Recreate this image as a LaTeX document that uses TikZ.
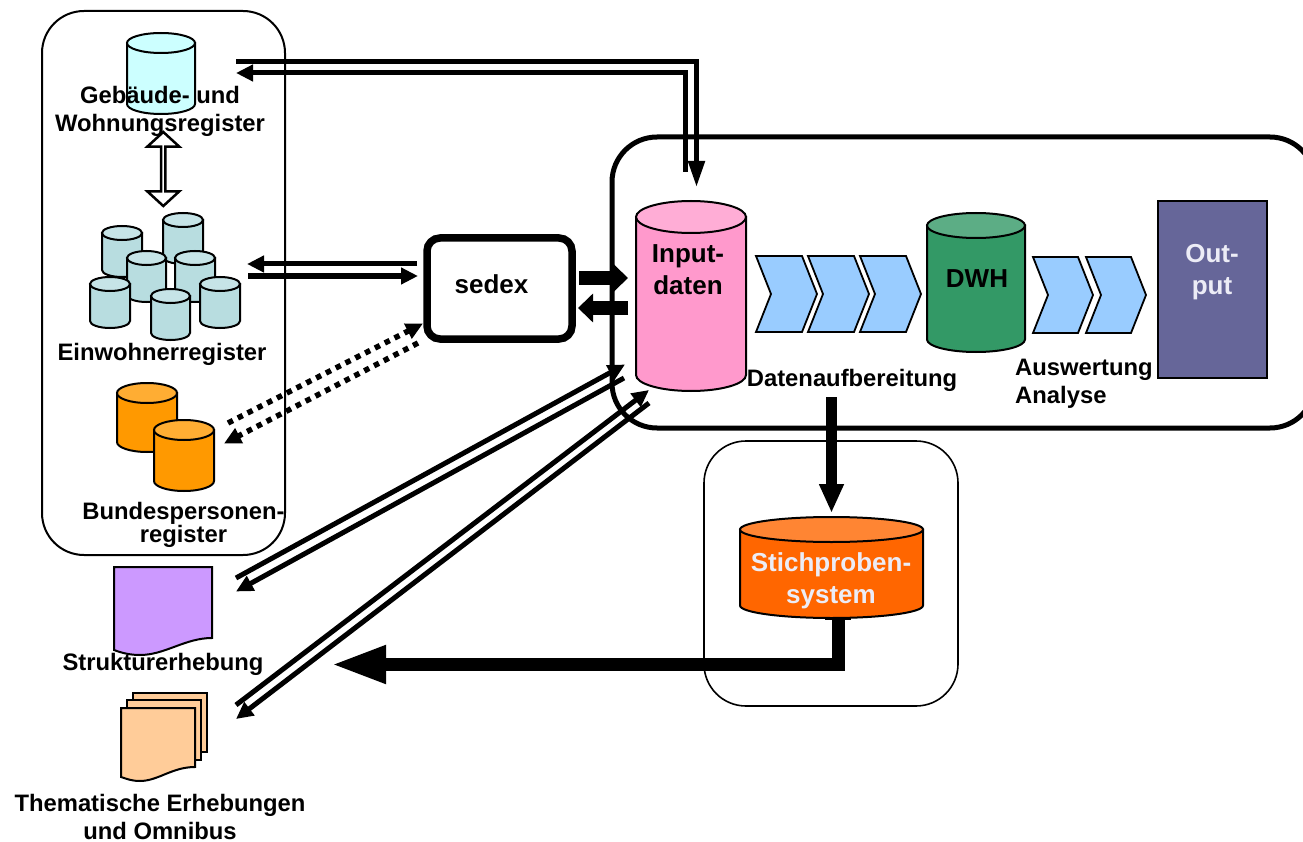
\documentclass[tikz,border=0pt]{standalone}
\usepackage{fontspec}
\setmainfont{Liberation Sans}
\usetikzlibrary{arrows.meta,shapes.arrows,calc}
\definecolor{cylcyan}{HTML}{CCFFFF}
\definecolor{cylblue}{HTML}{B8DDE0}
\definecolor{cylbluetop}{HTML}{C6E4E7}
\definecolor{cylorange}{HTML}{FF9900}
\definecolor{cylorangetop}{HTML}{FFAD33}
\definecolor{cylpink}{HTML}{FF99CC}
\definecolor{cylpinktop}{HTML}{FFADD6}
\definecolor{cylgreen}{HTML}{339966}
\definecolor{cylgreentop}{HTML}{5CAD85}
\definecolor{cylred}{HTML}{FF6600}
\definecolor{cylredtop}{HTML}{FF8533}
\definecolor{chev}{HTML}{99CCFF}
\definecolor{outbox}{HTML}{666699}
\definecolor{lilac}{HTML}{CC99FF}
\definecolor{peach}{HTML}{FFCC99}
\definecolor{lighttext}{HTML}{ECECF6}
\tikzset{
  lbl/.style={font=\fontsize{23.8}{28}\selectfont\bfseries,align=center,inner sep=0pt,text=black},
  lblbig/.style={font=\fontsize{26}{32}\selectfont\bfseries,align=center,inner sep=0pt},
  frame/.style={draw=black,fill=none,inner sep=0pt,outer sep=0pt},
  flow/.style={line width=5pt,draw=black,line join=miter},
  tipsmall/.style={-{Triangle[length=17pt,width=16pt]}},
  tipelbow/.style={-{Triangle[length=26pt,width=16pt]}},
  fat/.style={line width=14pt,draw=black,-{Triangle[length=15pt,width=28pt]}},
  dots/.style={line width=5.5pt,draw=black,dash pattern=on 5.5pt off 5.5pt},
  sheet/.style={draw=black,line width=2pt},
  chevron/.style={draw=black,fill=chev,line width=1.8pt,line join=miter}
}
% name, x1, x2, ytop, ybottom, ry, body colour, top colour
\newcommand\cyl[8]{%
  \pgfmathsetmacro\cylR{(#3-#2)/2}%
  \pgfmathsetmacro\cylC{(#2+#3)/2}%
  \pgfmathsetmacro\cylT{#4+#6}%
  \pgfmathsetmacro\cylB{#5-#6}%
  \pgfmathsetmacro\cylM{(#4+#5)/2}%
  \draw[black,line width=2pt,fill=#7] (#2,\cylT) -- (#2,\cylB)
     arc[start angle=180,end angle=360,x radius=\cylR pt,y radius=#6 pt] -- (#3,\cylT) -- cycle;
  \draw[black,line width=2pt,fill=#8] (\cylC,\cylT) ellipse[x radius=\cylR pt,y radius=#6 pt];
  \coordinate (#1) at (\cylC,\cylM);
}
\newcommand\chevronat[1]{%
  \draw[chevron] (#1,256) -- ++(46,0) -- ++(15,38) -- ++(-15,38) -- ++(-46,0) -- ++(15,-38) -- cycle;
}
\newcommand\chevronlow[1]{%
  \draw[chevron] (#1,257) -- ++(45,0) -- ++(15,38) -- ++(-15,38) -- ++(-45,0) -- ++(15,-38) -- cycle;
}
\begin{document}
\begin{tikzpicture}[x=1pt,y=-1pt]
\useasboundingbox (0,0) rectangle (1303,842);
\begin{scope}
\clip (0,0) rectangle (1303,842);

% frames
\node[frame,line width=2pt,rounded corners=42pt,minimum width=243pt,minimum height=544pt] (regbox) at (163.5,283) {};
\node[frame,line width=5pt,rounded corners=45pt,minimum width=703pt,minimum height=291pt] (mainbox) at (963.5,282.5) {};
\node[frame,line width=1.6pt,rounded corners=42pt,minimum width=254pt,minimum height=265pt] (samplebox) at (831,573.5) {};
\node[frame,line width=7.5pt,rounded corners=13pt,minimum width=145pt,minimum height=101pt,fill=white] (sedex) at (499.5,288.5) {};

% register cylinders
\cyl{gwr}{127}{195}{33}{114}{10}{cylcyan}{cylcyan}
\cyl{ew1}{102}{142}{226}{277}{7}{cylblue}{cylbluetop}
\cyl{ew2}{163}{203}{213}{264}{7}{cylblue}{cylbluetop}
\cyl{ew3}{127}{166}{251}{302}{7}{cylblue}{cylbluetop}
\cyl{ew4}{175}{215}{251}{302}{7}{cylblue}{cylbluetop}
\cyl{ew5}{90}{130}{277}{328}{7}{cylblue}{cylbluetop}
\cyl{ew6}{200}{240}{277}{328}{7}{cylblue}{cylbluetop}
\cyl{ew7}{151}{190}{289}{340}{7}{cylblue}{cylbluetop}
\cyl{bpr1}{117}{177}{383}{452}{10}{cylorange}{cylorangetop}
\cyl{bpr2}{154}{214}{420}{491}{10}{cylorange}{cylorangetop}

% white double arrow
\node[double arrow,draw=black,fill=white,line width=2.5pt,rotate=90,inner sep=0pt,outer sep=0pt,
  minimum height=74pt,minimum width=32pt,double arrow head extend=8pt,double arrow tip angle=95] (reglink) at (163.3,169) {};

% documents
\draw[sheet,fill=lilac] (114,567) -- (212,567) -- (212,638)
   .. controls (185,638) and (165,655) .. (140,655)
   .. controls (130,655) and (122,653) .. (114,650) -- cycle;
\coordinate (struk) at (163,610);
\draw[sheet,fill=peach] (133,693) rectangle (207,752);
\draw[sheet,fill=peach] (127,700) rectangle (201,760);
\draw[sheet,fill=peach] (121,708) -- (195,708) -- (195,767)
   .. controls (172,767) and (158,781) .. (140,781)
   .. controls (132,781) and (127,779) .. (121,777) -- cycle;
\coordinate (them) at (160,740);

% main row
\cyl{input}{636}{746}{201}{391}{16}{cylpink}{cylpinktop}
\chevronat{756}\chevronat{808}\chevronat{860}
\cyl{dwh}{927}{1025}{213}{352}{12.5}{cylgreen}{cylgreentop}
\chevronlow{1033}\chevronlow{1086}
\node[draw=black,line width=2pt,fill=outbox,inner sep=0pt,minimum width=109pt,minimum height=177pt] (output) at (1212.5,289.5) {};

% named connector ends
\coordinate (a1s) at (236,62);  \coordinate (a1c) at (696.5,62);  \coordinate (a1e) at (696.5,187);
\coordinate (a2s) at (685,172); \coordinate (a2c) at (685,73);    \coordinate (a2e) at (236,73);
\coordinate (b1s) at (417,264); \coordinate (b1e) at (247,264);
\coordinate (b2s) at (248,276); \coordinate (b2e) at (418,276);
\coordinate (c1s) at (579,278); \coordinate (c1e) at (628,278);
\coordinate (c2s) at (628,308); \coordinate (c2e) at (578,308);
\coordinate (d1s) at (228,423); \coordinate (d1e) at (423,323.5);
\coordinate (d2s) at (418,343); \coordinate (d2e) at (224,443.5);
\coordinate (e1s) at (236,578); \coordinate (e1e) at (625,364.5);
\coordinate (e2s) at (624,378); \coordinate (e2e) at (236,591.5);
\coordinate (f1s) at (236,705); \coordinate (f1e) at (649,390);
\coordinate (f2s) at (649,403); \coordinate (f2e) at (236,719);
\coordinate (g1s) at (831.5,397); \coordinate (g1e) at (831.5,513);
\coordinate (h1s) at (838,618); \coordinate (h1c) at (838,664.5); \coordinate (h1e) at (331,664.5);

% connectors
\draw[flow,tipelbow] (a1s) -- (a1c) -- (a1e);
\draw[flow,tipsmall] (a2s) -- (a2c) -- (a2e);
\draw[flow,tipsmall] (b1s) -- (b1e);
\draw[flow,tipsmall] (b2s) -- (b2e);
\draw[fat] (c1s) -- (c1e);
\draw[fat] (c2s) -- (c2e);
\draw[dots,-{Triangle[length=17pt,width=16pt]}] (d1s) -- (d1e);
\draw[dots,-{Triangle[length=17pt,width=16pt]}] (d2s) -- (d2e);
\draw[flow,tipsmall] (e1s) -- (e1e);
\draw[flow,tipsmall] (e2s) -- (e2e);
\draw[flow,tipsmall] (f1s) -- (f1e);
\draw[flow,tipsmall] (f2s) -- (f2e);
\draw[draw=black,line width=11pt,-{Triangle[length=29pt,width=23pt]}] (g1s) -- (g1e);
\draw[draw=black,line width=2pt] (825,619) -- (851,619);
\draw[draw=black,line width=13pt,line join=miter,-{Triangle[length=55pt,width=35pt]}] (h1s) -- (h1c) -- (h1e);
\cyl{stich}{740}{923}{517}{618}{12.5}{cylred}{cylredtop}

% labels
\node[lbl] (lgwr) at (160,111) {Geb\"aude- und\\Wohnungsregister};
\node[lbl] (lew) at (162,354) {Einwohnerregister};
\node[lbl] (lbpr) at (183.5,524.5) {Bundespersonen-\\[-5pt]register};
\node[lbl] (lstruk) at (163,664.5) {Strukturerhebung};
\node[lbl] (lthem) at (160,817) {Thematische Erhebungen\\und Omnibus};
\node[lblbig] (lsedex) at (491.5,284) {sedex};
\node[lblbig] (linput) at (688,270) {Input-\\daten};
\node[lblbig] (ldwh) at (977,279) {DWH};
\node[lblbig,text=lighttext] (lout) at (1212,272) {Out-\\put};
\node[lblbig,text=lighttext] (lstich) at (831,581) {Stichproben-\\system};
\node[lbl] (lauf) at (852,380) {Datenaufbereitung};
\node[lbl,align=left,anchor=west] (lausw) at (1015,384) {Auswertung\\Analyse};
\end{scope}
\end{tikzpicture}
\end{document}
